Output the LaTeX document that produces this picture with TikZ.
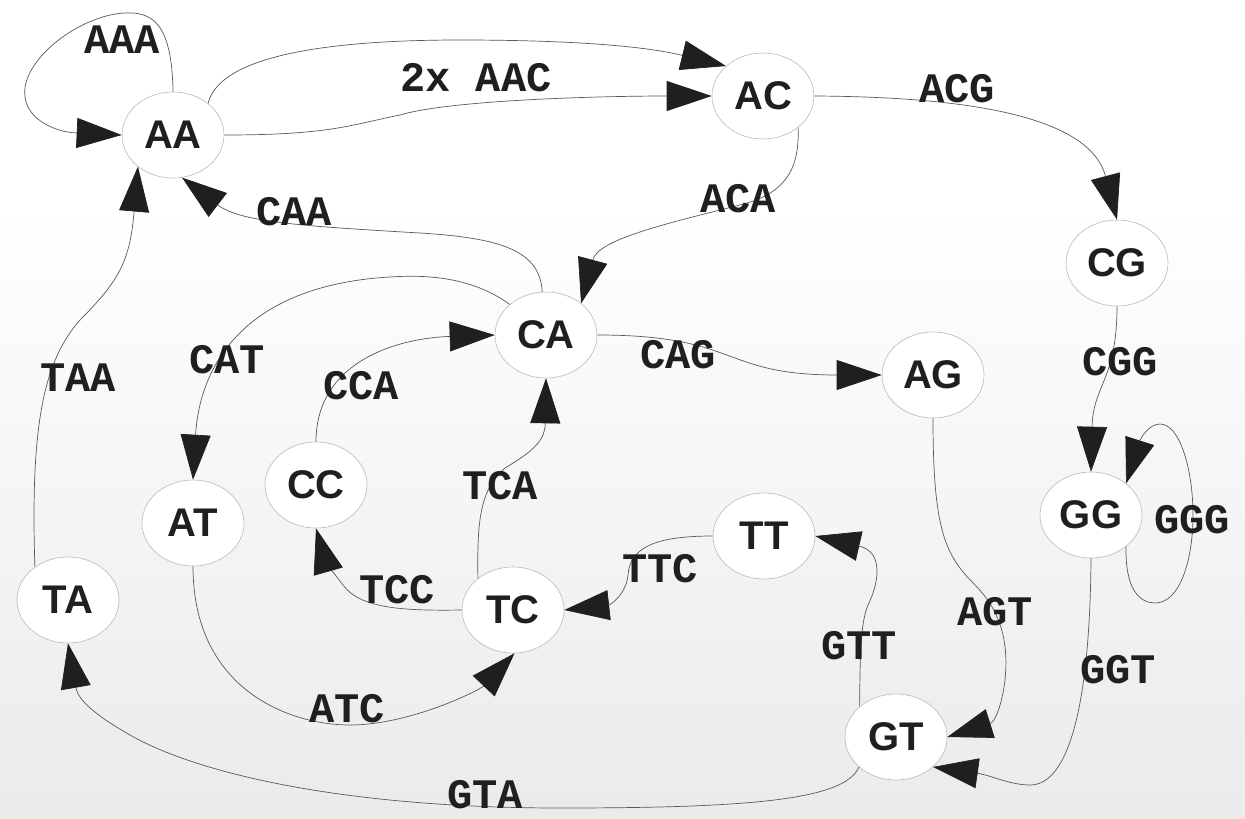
\documentclass[tikz,border=0pt]{standalone}
\usepackage{fontspec}
\usetikzlibrary{arrows.meta,shapes.geometric}
\newfontfamily\nodefont{Liberation Sans}
\newfontfamily\lblfont{Liberation Mono}
\begin{document}
\begin{tikzpicture}[x=1pt,y=-1pt,
 state/.style={ellipse, draw=black!27, fill=white, line width=0.6pt, minimum width=102pt, minimum height=86pt, inner sep=0pt, font=\nodefont\bfseries\fontsize{40}{40}\selectfont, text=black!88},
 lbl/.style={inner sep=0pt, font=\lblfont\bfseries\fontsize{42}{42}\selectfont, text=black!88},
 edge/.style={draw=black!65, line width=0.7pt, -{Triangle[length=45pt,width=30pt,color=black!88]}}]
\useasboundingbox (0,0) rectangle (1245,819);
\fill[white] (0,0) rectangle (1245,200);
\shade[top color=white,bottom color=gray!16] (0,199.5) rectangle (1245,819);

% nodes
\node[state] (AA) at (173,135) {AA};
\node[state] (AC) at (763,96) {AC};
\node[state] (CG) at (1117,263) {CG};
\node[state] (AG) at (933,375) {AG};
\node[state] (CA) at (546,335) {CA};
\node[state] (CC) at (316,485) {CC};
\node[state] (AT) at (193,523) {AT};
\node[state] (TA) at (68,600) {TA};
\node[state] (TC) at (513,610) {TC};
\node[state] (TT) at (764,536) {TT};
\node[state] (GG) at (1091,515) {GG};
\node[state] (GT) at (896,737) {GT};

% edges
\draw[edge] (AA.north) .. controls (172,20) and (150,12) .. (125,13) .. controls (80,15) and (20,60) .. (25,97) .. controls (28,120) and (55,132) .. (AA.west);
\draw[edge] (AA.42) .. controls (220,55) and (330,40) .. (460,40) .. controls (560,40) and (640,45) .. (AC.141);
\draw[edge] (AA.east) .. controls (330,135) and (350,125) .. (400,115) .. controls (450,100) and (600,96) .. (AC.west);
\draw[edge] (AC.east) .. controls (1000,97) and (1092,125) .. (CG.north);
\draw[edge] (AC.-42) .. controls (800,175) and (780,195) .. (740,205) .. controls (660,225) and (598,240) .. (CA.42);
\draw[edge] (CA.95) .. controls (540,250) and (500,238) .. (420,233) .. controls (300,226) and (240,222) .. (AA.-78);
\draw[edge] (CA.140) .. controls (470,275) and (420,275) .. (390,277) .. controls (250,285) and (200,360) .. (AT.north);
\draw[edge] (CC.north) .. controls (316,360) and (400,338) .. (CA.west);
\draw[edge] (CA.east) .. controls (740,335) and (720,375) .. (AG.west);
\draw[edge] (CG.south) .. controls (1117,380) and (1093,385) .. (GG.north);
\draw[edge] (GG.-42) .. controls (1125,590) and (1140,603) .. (1155,603) .. controls (1180,603) and (1193,560) .. (1193,515) .. controls (1193,470) and (1180,424) .. (1160,424) .. controls (1148,424) and (1140,440) .. (GG.42);
\draw[edge] (AG.south) .. controls (933,530) and (945,555) .. (975,585) .. controls (1005,615) and (1008,650) .. (1005,680) .. controls (1002,705) and (995,722) .. (GT.east);
\draw[edge] (GG.south) .. controls (1090,700) and (1070,785) .. (1030,785) .. controls (1010,785) and (990,775) .. (GT.-39);
\draw[edge] (GT.140) .. controls (860,640) and (862,620) .. (868,605) .. controls (878,585) and (885,552) .. (TT.east);
\draw[edge] (TT.west) .. controls (650,536) and (630,550) .. (628,575) .. controls (626,595) and (610,605) .. (TC.east);
\draw[edge] (TC.138) .. controls (477,520) and (480,490) .. (505,468) .. controls (535,450) and (545,440) .. (CA.south);
\draw[edge] (TC.west) .. controls (400,611) and (360,608) .. (343,585) .. controls (335,575) and (325,560) .. (CC.south);
\draw[edge] (AT.south) .. controls (193,690) and (290,725) .. (350,725) .. controls (410,725) and (480,690) .. (TC.-88);
\draw[edge] (TA.135) .. controls (30,420) and (45,360) .. (80,320) .. controls (120,280) and (130,260) .. (AA.222);
\draw[edge] (GT.219) .. controls (845,800) and (750,808) .. (560,808) .. controls (350,808) and (200,775) .. (130,735) .. controls (95,715) and (78,700) .. (TA.south);

% labels
\node[lbl] (lAAA) at (122,40) {AAA};
\node[lbl] (lAAC) at (476,78) {2x AAC};
\node[lbl] (lACG) at (957,89) {ACG};
\node[lbl] (lACA) at (738,199) {ACA};
\node[lbl] (lCAA) at (294,212) {CAA};
\node[lbl] (lCGG) at (1120,362) {CGG};
\node[lbl] (lTAA) at (78,378) {TAA};
\node[lbl] (lCAT) at (227,360) {CAT};
\node[lbl] (lCCA) at (361,386) {CCA};
\node[lbl] (lCAG) at (678,355) {CAG};
\node[lbl] (lTCA) at (500,486) {TCA};
\node[lbl] (lTTC) at (660,569) {TTC};
\node[lbl] (lGGG) at (1192,520) {GGG};
\node[lbl] (lAGT) at (995,612) {AGT};
\node[lbl] (lGTT) at (859,646) {GTT};
\node[lbl] (lGGT) at (1118,670) {GGT};
\node[lbl] (lTCC) at (397,590) {TCC};
\node[lbl] (lATC) at (347,709) {ATC};
\node[lbl] (lGTA) at (485,795) {GTA};
\end{tikzpicture}
\end{document}
